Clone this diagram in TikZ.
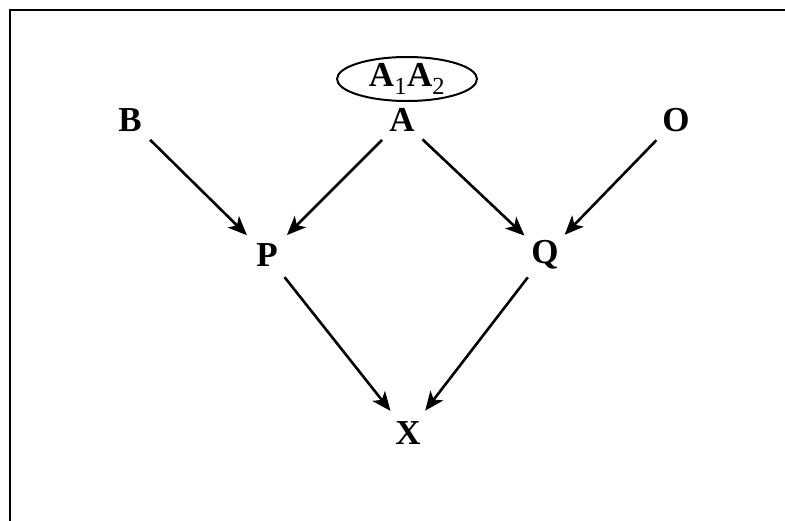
\documentclass[tikz,border=0pt]{standalone}
\usepackage{fontspec}
\setmainfont{Liberation Serif}
\usetikzlibrary{arrows.meta,shapes.geometric}
\begin{document}
\begin{tikzpicture}[x=1pt,y=-1pt,
  lbl/.style={circle,minimum size=56pt,inner sep=0pt,font=\fontsize{35}{40}\selectfont\bfseries},
  arr/.style={line width=2.6pt,-{Stealth[length=19pt,width=16pt,inset=5pt]}}]
\useasboundingbox (0,0) rectangle (785,520);
\begin{scope}
\clip (0,0) rectangle (785,520);
\draw[line width=2.8pt] (10,530) -- (10,10) -- (795,10);
\end{scope}
\node[draw,ellipse,line width=2pt,minimum width=140pt,minimum height=44pt,inner sep=0pt,font=\fontsize{35}{40}\selectfont] (AA) at (407,79) {\textbf{A}\textsubscript{1}\textbf{A}\textsubscript{2}};
\node[lbl] (B) at (130,120) {B};
\node[lbl] (A) at (402,120) {A};
\node[lbl] (O) at (676,120) {O};
\node[lbl] (P) at (267,255) {P};
\node[lbl] (Q) at (545,255) {Q};
\node[lbl] (X) at (408,433) {X};
\draw[arr] (B) -- (P);
\draw[arr] (A) -- (P);
\draw[arr] (A) -- (Q);
\draw[arr] (O) -- (Q);
\draw[arr] (P) -- (X);
\draw[arr] (Q) -- (X);
\end{tikzpicture}
\end{document}
